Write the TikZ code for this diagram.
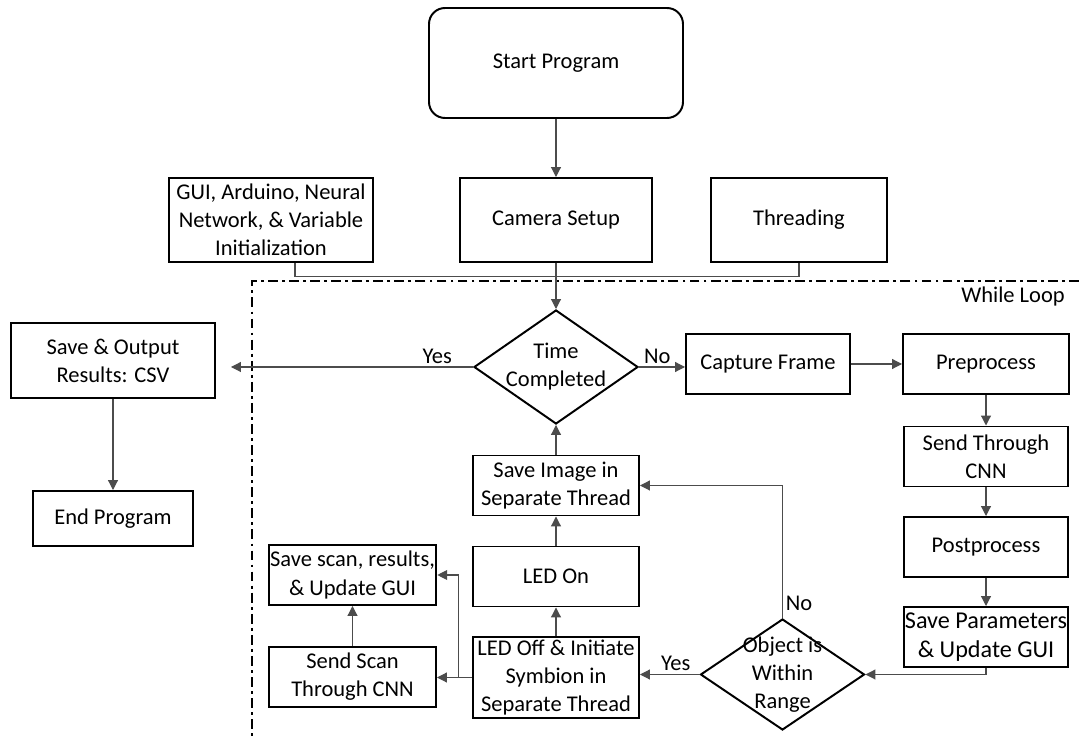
\documentclass[tikz,border=0pt]{standalone}
\usepackage{fontspec}
\setmainfont{Carlito}
\usepackage{tikz}
\usetikzlibrary{calc, arrows.meta, shapes.geometric}

\begin{document}
\begin{tikzpicture}[
  font=\fontsize{16}{20}\selectfont,
  box/.style={draw, line width=1.4pt, minimum width=4.1cm, minimum height=1.5cm, align=center, inner sep=1pt},
  decision/.style={box, diamond, aspect=1.45, inner sep=-8pt, minimum height=2.85cm},
  link/.style={draw=black!70, line width=0.8pt},
  flow/.style={link, -{Triangle[length=7pt, width=7pt]}},
  tag/.style={inner sep=2pt},
  loopline/.style={line width=1.3pt, dash pattern=on 7pt off 3pt on 2pt off 3pt}
]
  \useasboundingbox (0,0) rectangle (26.975,18.5);

  % Setup stage
  \node[box, rounded corners=0.4cm, minimum width=6.35cm, minimum height=2.75cm] (start) at (13.9,16.925) {Start Program};
  \node[box, minimum width=5.1cm, minimum height=2.1cm] (init) at (6.775,13.0) {GUI, Arduino, Neural\\Network, \& Variable\\Initialization};
  \node[box, minimum width=4.8cm, minimum height=2.1cm] (camera) at (13.9,13.0) {Camera Setup};
  \node[box, minimum width=4.4cm, minimum height=2.1cm] (thread) at (19.975,13.0) {Threading};

  % While loop frame
  \draw[loopline] (26.975,11.475) -| (6.3,0);
  \node[tag] (looptag) at (25.325,11.075) {While Loop};

  % Loop body
  \node[decision] (time) at (13.9,9.325) {Time\\Completed};
  \node[box, minimum width=5.1cm, minimum height=1.875cm] (save) at (2.825,9.4875) {Save \& Output\\Results: CSV};
  \node[box, minimum width=4cm, minimum height=1.375cm] (finish) at (2.825,5.5375) {End Program};
  \node[box] (capture) at (19.2,9.4) {Capture Frame};
  \node[box, minimum width=4.15cm] (pre) at (24.65,9.4) {Preprocess};
  \node[box] (cnn) at (24.65,7.0875) {Send Through\\CNN};
  \node[box] (post) at (24.65,4.825) {Postprocess};
  \node[box, font=\fontsize{17.2}{20.5}\selectfont] (param) at (24.65,2.575) {Save Parameters\\\& Update GUI};
  \node[decision, minimum height=2.775cm] (object) at (19.5625,1.6375) {Object is\\Within\\Range};
  \node[box, minimum width=4.15cm, minimum height=2.025cm] (ledoff) at (13.9,1.5625) {LED Off \& Initiate\\Symbion in\\Separate Thread};
  \node[box, minimum width=4.15cm] (ledon) at (13.9,4.0875) {LED On};
  \node[box, minimum width=4.15cm] (saveimg) at (13.9,6.3625) {Save Image in\\Separate Thread};
  \node[box, minimum width=4.175cm] (savescan) at (8.8125,4.125) {Save scan, results,\\\& Update GUI};
  \node[box, minimum width=4.175cm] (sendscan) at (8.8125,1.575) {Send Scan\\Through CNN};

  % Connectors
  \draw[flow] (start) -- (camera);
  \draw[link] ([xshift=0.6cm]init.south) -- ++(0,-0.34) -| (thread.south);
  \draw[flow] (camera) -- (time);
  \draw[flow, shorten >=0.375cm] (time.west) -- node[tag, pos=0.139, above] {Yes} (time.west -| save.east);
  \draw[flow] (save) -- (finish);
  \draw[flow] (time.east) -- node[tag, pos=0.4, above] {No} (time.east -| capture.west);
  \draw[flow] (capture) -- (pre);
  \foreach \a/\b in {pre/cnn, cnn/post, post/param}
    \draw[flow] (\a) -- (\b);
  \draw[flow] (param.south) |- (object.east);
  \draw[flow] (object.north) |- node[tag, pos=0.056, right] {No} (saveimg.east);
  \draw[flow] (object.west) -- node[tag, pos=0.4, above] {Yes} (object.west -| ledoff.east);
  \foreach \a/\b in {ledoff/ledon, ledon/saveimg, saveimg/time}
    \draw[flow] (\a) -- (\b);
  \draw[flow] (ledoff.west) -- (ledoff.west -| sendscan.east);
  \coordinate (split) at ($(ledoff.west)!0.395!(sendscan.east)$);
  \draw[flow] (split) |- (savescan.east);
  \draw[flow] (sendscan) -- (savescan);
\end{tikzpicture}
\end{document}
